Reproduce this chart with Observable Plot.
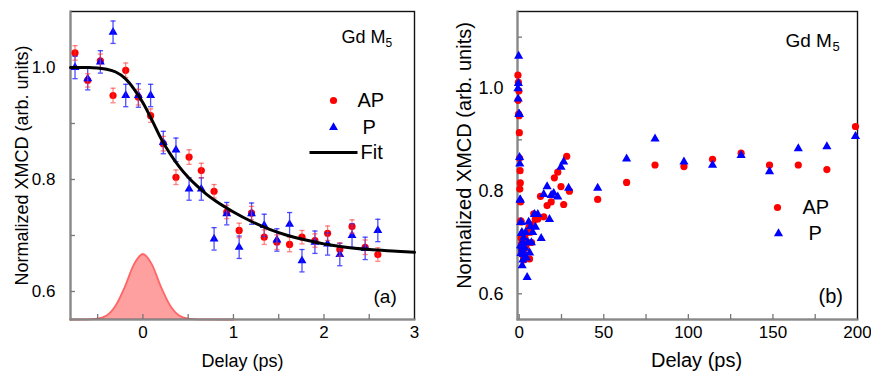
<!DOCTYPE html>
<html><head><meta charset="utf-8">
<script src="https://cdn.jsdelivr.net/npm/d3@7"></script>
<script src="https://cdn.jsdelivr.net/npm/@observablehq/plot@0.6"></script>
<style>
body{margin:0;background:#fff;}
#wrap{position:relative;width:871px;height:371px;}
#a,#b{position:absolute;top:0;}
#a{left:0}#b{left:436px}
</style></head><body><div id="wrap"><div id="a"></div><div id="b"></div></div>
<script>
// ---- data: panel (a), short delays ----
const delayShort = [-0.75,-0.61,-0.47,-0.33,-0.19,-0.05,0.085,0.225,0.365,0.51,0.645,0.786,0.926,1.063,1.2,1.34,1.48,1.62,1.757,1.9,2.04,2.175,2.31,2.455,2.595];
const apShort = [1.026,0.977,1.012,0.95,0.995,0.947,0.914,0.864,0.804,0.84,0.816,0.779,0.742,0.709,0.74,0.697,0.688,0.684,0.697,0.691,0.704,0.675,0.716,0.679,0.666];
const apErr   = [0.013,0.012,0.012,0.013,0.013,0.014,0.012,0.013,0.013,0.013,0.013,0.012,0.012,0.013,0.012,0.013,0.013,0.013,0.012,0.012,0.013,0.012,0.012,0.013,0.012];
const pShort  = [1.0,0.98,1.01,1.063,0.95,0.95,0.95,0.866,0.853,0.783,0.783,0.694,0.739,0.679,0.739,0.718,0.692,0.72,0.655,0.688,0.685,0.666,0.70,0.677,0.709];
const pErr    = [0.02,0.02,0.02,0.02,0.02,0.021,0.02,0.02,0.021,0.02,0.02,0.02,0.02,0.02,0.019,0.02,0.02,0.021,0.02,0.02,0.02,0.02,0.021,0.02,0.02];
const fitT = [-0.8,-0.6,-0.5,-0.4,-0.3,-0.2,-0.1,0,0.1,0.2,0.3,0.4,0.5,0.6,0.7,0.8,1.0,1.2,1.4,1.6,1.8,2.0,2.2,2.5,2.8,3.0];
const fitV = [1.0,1.0,0.999,0.997,0.992,0.981,0.962,0.937,0.906,0.873,0.846,0.823,0.804,0.788,0.774,0.762,0.742,0.725,0.711,0.700,0.692,0.685,0.680,0.675,0.672,0.670];
const pulseT = [-0.8,-0.6,-0.5,-0.4,-0.3,-0.2,-0.1,0,0.1,0.2,0.3,0.4,0.5,0.6,1.0];
const pulseV = [0.55,0.5502,0.5515,0.557,0.575,0.608,0.648,0.667,0.648,0.608,0.575,0.557,0.5515,0.5502,0.55];
// ---- data: panel (b), long delays ----
const apLongT = [3.3,4.0,4.7,5.1,5.8,6.1,6.6,7.3,8.0,8.6,9.5,11,12.6,14.5,16.5,18.9,20.8,22.8,24.7,26.3,28.1,29.7,46.4,63.5,80.3,97.4,114.3,131.2,148,165,181.9,198.8];
const apLongV = [0.71,0.69,0.72,0.70,0.73,0.668,0.72,0.70,0.735,0.756,0.745,0.746,0.79,0.75,0.772,0.779,0.826,0.837,0.809,0.774,0.868,0.80,0.784,0.817,0.851,0.848,0.862,0.874,0.851,0.851,0.842,0.926];
const pLongT = [3.2,3.8,4.3,4.7,5.2,5.6,6.2,6.7,7.2,8.0,9.0,9.6,11,13,14.5,16.5,17.9,18.9,20.4,22.8,24.7,26.3,29.2,46.4,63.5,80.3,97.4,114.3,131.2,148,165,181.9,198.8];
const pLongV = [0.69,0.72,0.67,0.632,0.70,0.74,0.68,0.731,0.70,0.72,0.755,0.73,0.755,0.708,0.794,0.809,0.745,0.792,0.796,0.789,0.847,0.857,0.806,0.806,0.863,0.902,0.857,0.851,0.87,0.838,0.883,0.887,0.907];
// ---- ticks ----
const xTicksA = [-0.5,0,0.5,1,1.5,2,2.5];
const xLabelsA = [0,1,2,3];
const yTicksA = [0.6,0.7,0.8,0.9,1.0];
const yLabelsA = [0.6,0.8,1.0];
const xTicksB = [0,25,50,75,100,125,150,175];
const xLabelsB = [0,50,100,150,200];
const yTicksB = [0.6,0.7,0.8,0.9,1.0,1.1];
const yLabelsB = [0.6,0.8,1.0];

const FONT = '"Liberation Sans", Arial, Helvetica, sans-serif';
const RED = "#ff0000", BLUE = "#0000ff";
const capSym = {draw(ctx){ ctx.moveTo(-2.6,0); ctx.lineTo(2.6,0); }};
const lineSym = {draw(ctx){ ctx.moveTo(-24,0); ctx.lineTo(24,0); }};

const ap = delayShort.map((t,i)=>({t, v:apShort[i], e:apErr[i]}));
const pp = delayShort.map((t,i)=>({t, v:pShort[i], e:pErr[i]}));
const fit = fitT.map((t,i)=>({t, v:fitV[i]}));
const pulse = pulseT.map((t,i)=>({t, v:pulseV[i]}));
const apAll = ap.concat(apLongT.map((t,i)=>({t, v:apLongV[i]})));
const pAll = pp.concat(pLongT.map((t,i)=>({t, v:pLongV[i]})));

const fmt = d3.format(".1f");
const W = 435, H = 371;

function frameMarks(){
  return [
    Plot.frame({stroke:"#111", strokeWidth:1.4}),
    Plot.frame({anchor:"left", stroke:"#888", strokeWidth:2}),
    Plot.frame({anchor:"bottom", stroke:"#888", strokeWidth:2})
  ];
}

const innerHA = H - 11 - 52, innerWA = W - 70 - 21;
const plotA = Plot.plot({
  width: W, height: H,
  marginLeft: 70, marginRight: 21, marginTop: 11, marginBottom: 52,
  style: {fontFamily: FONT, background: "#fff", color: "#000"},
  x: {domain: [-0.8, 3]},
  y: {domain: [0.55, 1.1]},
  marks: [
    Plot.areaY(pulse, {x:"t", y1:0.55, y2:"v", fill:"#f77", fillOpacity:0.7, curve:"monotone-x"}),
    Plot.lineY(pulse, {x:"t", y:"v", stroke:"#f66", strokeWidth:1.8, curve:"monotone-x"}),
    Plot.tickX(xTicksA, {x:d=>d, insetTop: innerHA - 5, stroke:"#777", strokeWidth:1.3}),
    Plot.tickY(yTicksA, {y:d=>d, insetRight: innerWA - 5, stroke:"#777", strokeWidth:1.3}),
    ...frameMarks(),
    Plot.axisX(xLabelsA, {tickSize:0, tickPadding:6, fontSize:17, label:null}),
    Plot.axisY(yLabelsA, {tickSize:0, tickPadding:15, fontSize:17, label:null, tickFormat: fmt}),
    Plot.text(["Delay (ps)"], {frameAnchor:"bottom", dy:42, fontSize:18, textAnchor:"middle", lineAnchor:"middle"}),
    Plot.text(["Normalized XMCD (arb. units)"], {frameAnchor:"left", dx:-48, rotate:-90, fontSize:18, textAnchor:"middle", lineAnchor:"middle"}),
    Plot.dot(ap, {x:"t", y:"v", r:3.6, fill:RED}),
    Plot.dot(pp, {x:"t", y:"v", r:3.3, symbol:"triangle", fill:BLUE}),
    Plot.ruleX(pp, {x:"t", y1:d=>d.v-d.e, y2:d=>d.v+d.e, stroke:"#22f", strokeOpacity:0.8, strokeWidth:1.3}),
    Plot.dot(pp, {x:"t", y:d=>d.v-d.e, symbol:capSym, stroke:"#22f", strokeOpacity:0.8, fill:"none", strokeWidth:1.3}),
    Plot.dot(pp, {x:"t", y:d=>d.v+d.e, symbol:capSym, stroke:"#22f", strokeOpacity:0.8, fill:"none", strokeWidth:1.3}),
    Plot.ruleX(ap, {x:"t", y1:d=>d.v-d.e, y2:d=>d.v+d.e, stroke:"#f33", strokeOpacity:0.6, strokeWidth:1.3}),
    Plot.dot(ap, {x:"t", y:d=>d.v-d.e, symbol:capSym, stroke:"#f33", strokeOpacity:0.6, fill:"none", strokeWidth:1.3}),
    Plot.dot(ap, {x:"t", y:d=>d.v+d.e, symbol:capSym, stroke:"#f33", strokeOpacity:0.6, fill:"none", strokeWidth:1.3}),
    Plot.line(fit, {x:"t", y:"v", stroke:"#000", strokeWidth:3, curve:"monotone-x"}),
    // legend
    Plot.dot([0], {frameAnchor:"top-right", dx:-81, dy:89, r:3.6, fill:RED}),
    Plot.text(["AP"], {frameAnchor:"top-right", dx:-57, dy:89, textAnchor:"start", fontSize:20, lineAnchor:"middle"}),
    Plot.dot([0], {frameAnchor:"top-right", dx:-81, dy:116, r:3.3, symbol:"triangle", fill:BLUE}),
    Plot.text(["P"], {frameAnchor:"top-right", dx:-52, dy:116, textAnchor:"start", fontSize:20, lineAnchor:"middle"}),
    Plot.dot([0], {frameAnchor:"top-right", dx:-81, dy:141, symbol:lineSym, stroke:"#000", strokeWidth:3, fill:"none"}),
    Plot.text(["Fit"], {frameAnchor:"top-right", dx:-54, dy:141, textAnchor:"start", fontSize:20, lineAnchor:"middle"}),
    Plot.text(["Gd M"], {frameAnchor:"top-right", dx:-73, dy:26, textAnchor:"start", fontSize:18, lineAnchor:"middle"}),
    Plot.text(["5"], {frameAnchor:"top-right", dx:-29, dy:32, textAnchor:"start", fontSize:12, lineAnchor:"middle"}),
    Plot.text(["(a)"], {frameAnchor:"bottom-right", dx:-41, dy:-23, textAnchor:"start", fontSize:19, lineAnchor:"middle"})
  ]
});
document.getElementById("a").appendChild(plotA);

const innerHB = H - 11 - 52, innerWB = W - 81 - 14;
const plotB = Plot.plot({
  width: W, height: H,
  marginLeft: 81, marginRight: 14, marginTop: 11, marginBottom: 52,
  style: {fontFamily: FONT, background: "#fff", color: "#000", overflow: "visible"},
  x: {domain: [-1, 200]},
  y: {domain: [0.55, 1.15]},
  marks: [
    Plot.tickX(xTicksB, {x:d=>d, insetTop: innerHB - 5, stroke:"#777", strokeWidth:1.3}),
    Plot.tickY(yTicksB, {y:d=>d, insetRight: innerWB - 5, stroke:"#777", strokeWidth:1.3}),
    ...frameMarks(),
    Plot.axisX(xLabelsB, {tickSize:0, tickPadding:6, fontSize:17, label:null}),
    Plot.axisY(yLabelsB, {tickSize:0, tickPadding:14, fontSize:18, label:null, tickFormat: fmt}),
    Plot.text(["Delay (ps)"], {frameAnchor:"bottom", dy:41, dx:9, fontSize:20, textAnchor:"middle", lineAnchor:"middle"}),
    Plot.text(["Normalized XMCD (arb. units)"], {frameAnchor:"left", dx:-53, dy:-10, rotate:-90, fontSize:20, textAnchor:"middle", lineAnchor:"middle"}),
    Plot.dot(apAll, {x:"t", y:"v", r:3.6, fill:RED}),
    Plot.dot(pAll, {x:"t", y:"v", r:3.4, symbol:"triangle", fill:BLUE}),
    Plot.dot([0], {frameAnchor:"top-right", dx:-80, dy:196, r:3.6, fill:RED}),
    Plot.text(["AP"], {frameAnchor:"top-right", dx:-55, dy:196, textAnchor:"start", fontSize:20, lineAnchor:"middle"}),
    Plot.dot([0], {frameAnchor:"top-right", dx:-79, dy:222, r:3.4, symbol:"triangle", fill:BLUE}),
    Plot.text(["P"], {frameAnchor:"top-right", dx:-49, dy:222, textAnchor:"start", fontSize:20, lineAnchor:"middle"}),
    Plot.text(["Gd M"], {frameAnchor:"top-right", dx:-72, dy:29, textAnchor:"start", fontSize:19, lineAnchor:"middle"}),
    Plot.text(["5"], {frameAnchor:"top-right", dx:-25, dy:35, textAnchor:"start", fontSize:13, lineAnchor:"middle"}),
    Plot.text(["(b)"], {frameAnchor:"bottom-right", dx:-39, dy:-23, textAnchor:"start", fontSize:20, lineAnchor:"middle"})
  ]
});
document.getElementById("b").appendChild(plotB);
</script>
</body></html>
